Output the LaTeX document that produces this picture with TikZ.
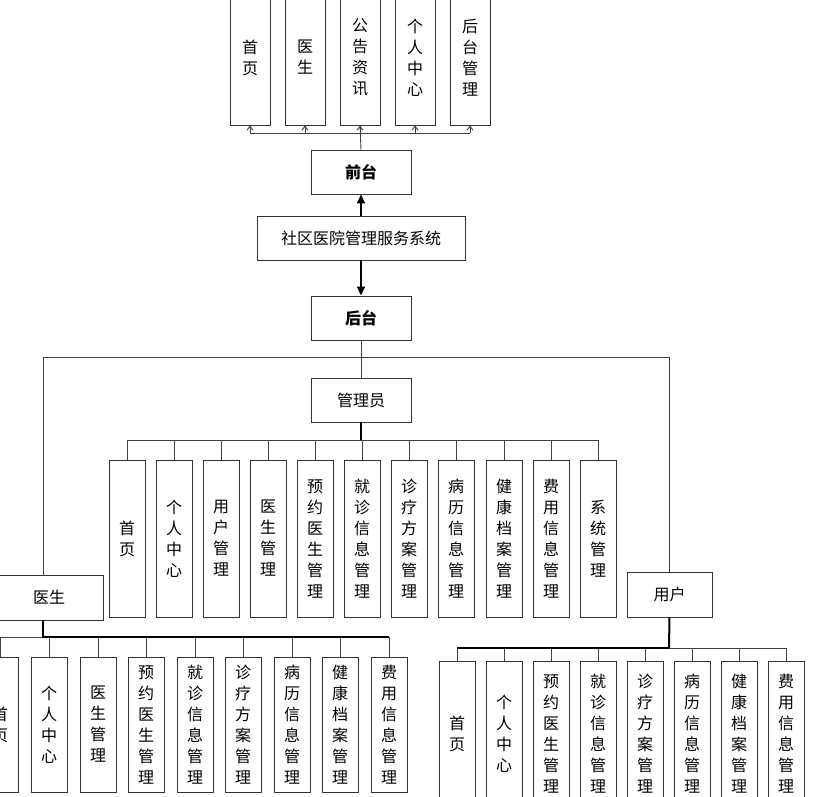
\documentclass[tikz,border=0pt]{standalone}
\usepackage{fontspec}
\setmainfont{Noto Sans CJK SC}
\usetikzlibrary{arrows.meta}
\begin{document}
\begin{tikzpicture}[x=1pt,y=-1pt,
  box/.style={draw=black!80,line width=0.9pt,inner sep=0pt,fill=white,font=\fontsize{16}{21}\selectfont,align=center},
  ln/.style={draw=black!75,line width=0.9pt},
  thk/.style={draw=black,line width=2pt}]
\useasboundingbox (0,0) rectangle (822,796);
\clip (0,0) rectangle (822,796);
% top
\foreach \i/\x/\t in {1/250/首\\页,2/305/医\\生,3/360/公\\告\\资\\讯,4/415/个\\人\\中\\心,5/470/后\\台\\管\\理}
  \node[box,minimum width=40,minimum height=135] (t\i) at (\x,57.5) {\t};
\node[box,minimum width=100,minimum height=44] (qt) at (361,172) {\textbf{前台}};
\node[box,minimum width=208,minimum height=44] (sys) at (361,238) {社区医院管理服务系统};
\node[box,minimum width=100,minimum height=44] (ht) at (361,318) {\textbf{后台}};
\draw[ln] (qt.north) -- (t3.south);
\coordinate (tb) at (361,133);
\foreach \i in {1,...,5}
  \draw[ln,-{Straight Barb[length=4pt,width=6pt]}] (tb -| t\i) -- (t\i.south);
\draw[ln] (tb -| t1) -- (tb -| t5);
\draw[line width=1.5pt,-{Triangle[length=9pt,width=8pt]}] (sys.north) -- (qt.south);
\draw[line width=1.5pt,-{Triangle[length=9pt,width=8pt]}] (sys.south) -- (ht.north);
% second level
\node[box,minimum width=100,minimum height=44] (gly) at (361,400) {管理员};
\node[box,minimum width=108,minimum height=45] (ys) at (49,597.5) {医生};
\node[box,minimum width=85,minimum height=45] (yh) at (669.5,594.5) {用户};
\coordinate (hb) at (361,357);
\coordinate (ysl) at (43,575);
\coordinate (ysb) at (43,620);
\draw[ln] (ht.south) -- (hb);
\draw[ln] (hb) -- (hb -| ysl) -- (ysl);
\draw[ln] (hb) -- (hb -| yh) -- (yh.north);
\draw[ln] (hb) -- (gly.north);
% admin children
\coordinate (ab) at (361,440);
\foreach \i/\x/\t in {1/127/首\\页,2/174/个\\人\\中\\心,3/221/用\\户\\管\\理,4/268/医\\生\\管\\理,5/315/预\\约\\医\\生\\管\\理,6/362/就\\诊\\信\\息\\管\\理,7/409/诊\\疗\\方\\案\\管\\理,8/456/病\\历\\信\\息\\管\\理,9/504/健\\康\\档\\案\\管\\理,10/551/费\\用\\信\\息\\管\\理,11/598/系\\统\\管\\理}{
  \node[box,minimum width=36,minimum height=157] (a\i) at (\x,538.5) {\t};
  \draw[ln] (ab -| a\i) -- (a\i.north);}
\draw[ln] (ab -| a1) -- (ab -| a11);
\draw[thk] (gly.south) -- (ab);
% doctor children
\coordinate (db) at (43,637);
\foreach \i/\x/\t in {1/0/首\\页,2/49/个\\人\\中\\心,3/98/医\\生\\管\\理,4/146/预\\约\\医\\生\\管\\理,5/195/就\\诊\\信\\息\\管\\理,6/243/诊\\疗\\方\\案\\管\\理,7/292/病\\历\\信\\息\\管\\理,8/340/健\\康\\档\\案\\管\\理,9/389/费\\用\\信\\息\\管\\理}{
  \node[box,minimum width=36,minimum height=135] (d\i) at (\x,724.5) {\t};
  \draw[ln] (db -| d\i) -- (d\i.north);}
\draw[ln] (db -| d1) -- (db -| d9);
\draw[thk] (ysb) -- (db) -- (db -| d9);
% user children
\coordinate (ub) at (669,648);
\foreach \i/\x/\t in {1/457/首\\页,2/504/个\\人\\中\\心,3/551/预\\约\\医\\生\\管\\理,4/598/就\\诊\\信\\息\\管\\理,5/645/诊\\疗\\方\\案\\管\\理,6/692/病\\历\\信\\息\\管\\理,7/739/健\\康\\档\\案\\管\\理,8/786/费\\用\\信\\息\\管\\理}{
  \node[box,minimum width=36,minimum height=145] (u\i) at (\x,733.5) {\t};
  \draw[ln] (ub -| u\i) -- (u\i.north);}
\draw[ln] (ub -| u1) -- (ub -| u8);
\draw[thk] (yh.south) -- (ub);
\draw[line width=1.5pt] (ub -| u1) -- (ub);
\end{tikzpicture}
\end{document}
